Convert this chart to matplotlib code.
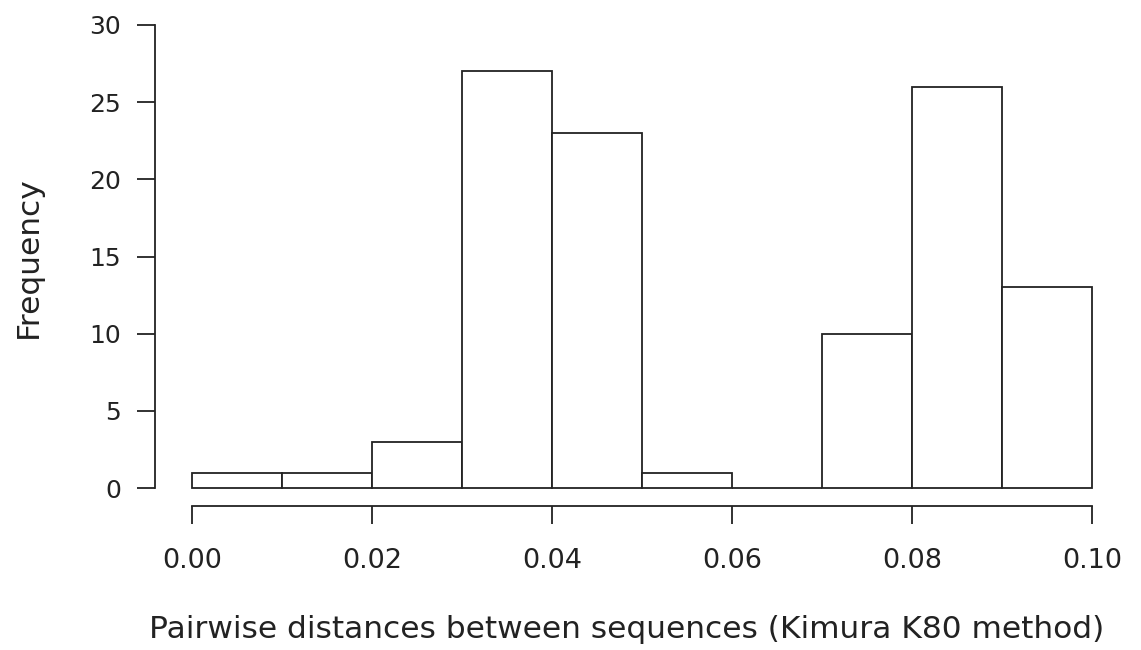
import matplotlib
matplotlib.use("Agg")
import matplotlib.pyplot as plt
import numpy as np

bin_edges = [0.00, 0.01, 0.02, 0.03, 0.04, 0.05, 0.06, 0.07, 0.08, 0.09, 0.10]
counts = [1, 1, 3, 27, 23, 1, 0, 10, 26, 13]
x_ticks = [0.00, 0.02, 0.04, 0.06, 0.08, 0.10]
x_tick_labels = ["0.00", "0.02", "0.04", "0.06", "0.08", "0.10"]
y_ticks = [0, 5, 10, 15, 20, 25, 30]

W, H = 1141, 650
fig = plt.figure(figsize=(W / 100, H / 100), dpi=100)
plt.rcParams['font.family'] = ['DejaVu Sans']
ax = fig.add_axes([192 / W, (H - 488) / H, (1092 - 192) / W, (488 - 25) / H])
_, _, patches = ax.hist(bin_edges[:-1], bins=bin_edges, weights=counts, histtype='bar',
                        facecolor='white', edgecolor='#222222', linewidth=1.3)
for p in patches:
    p.set_clip_on(False)
ax.set_xlim(0, 0.1)
ax.set_ylim(0, 30)
for s in ['top', 'right']:
    ax.spines[s].set_visible(False)
px = 0.72
ax.spines['left'].set_position(('outward', 37 * px))
ax.spines['bottom'].set_position(('outward', 18 * px))
ax.spines['left'].set_bounds(0, 30)
ax.spines['bottom'].set_bounds(0, 0.1)
for s in ['left', 'bottom']:
    ax.spines[s].set_linewidth(1.3)
    ax.spines[s].set_color('#222222')
ax.set_xticks(x_ticks)
ax.set_xticklabels(x_tick_labels)
ax.set_yticks(y_ticks)
ax.tick_params(axis='both', length=18 * px, width=1.3, color='#222222',
               labelcolor='#222222')
ax.tick_params(axis='x', pad=24 * px, labelsize=19.5)
ax.tick_params(axis='y', pad=16 * px, labelsize=18)
ax.set_xlabel("Pairwise distances between sequences (Kimura K80 method)",
              fontsize=22.5, color='#222222')
ax.set_ylabel("Frequency", fontsize=22.5, color='#222222')
ax.xaxis.set_label_coords((627 - 192) / (1092 - 192), -(630 - 488) / (488 - 25))
ax.xaxis.label.set_va('center')
ax.yaxis.set_label_coords(-(192 - 28) / (1092 - 192), (488 - 257) / (488 - 25))
ax.yaxis.label.set_va('center')
fig.savefig("out.png", dpi=100)
